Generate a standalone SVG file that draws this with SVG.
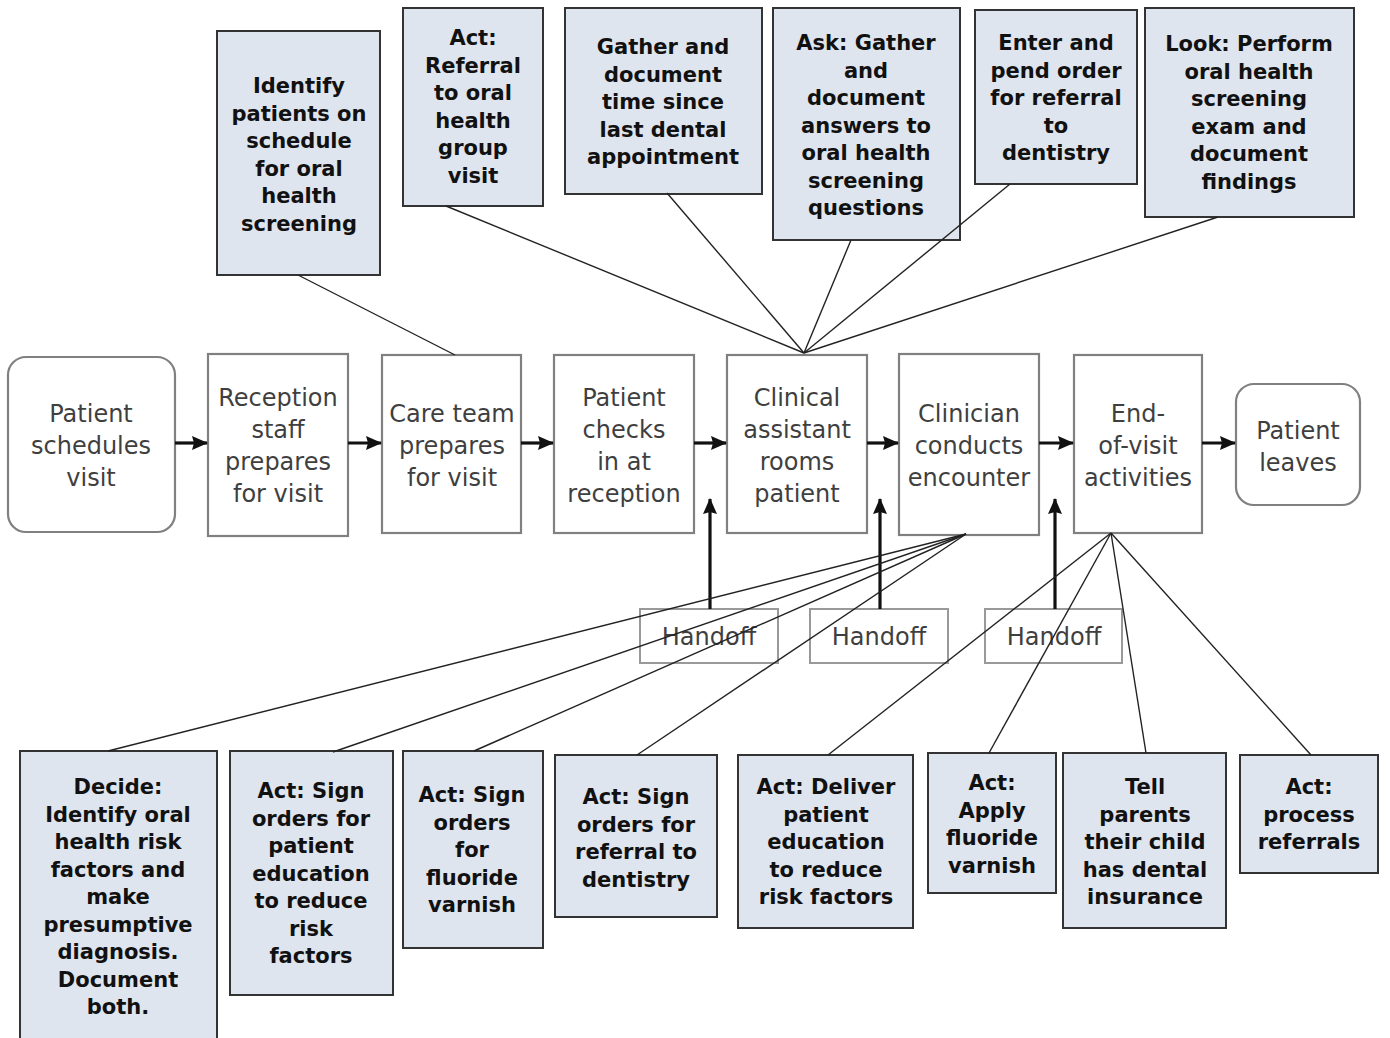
<svg xmlns="http://www.w3.org/2000/svg" width="1390" height="1038" viewBox="0 0 1390 1038">
<style>
.bg{fill:#ffffff}
.note rect{fill:#dfe5ee;stroke:#333;stroke-width:2}
.note text{font-family:"DejaVu Sans",Verdana,sans-serif;font-weight:bold;font-size:21px;fill:#111;text-anchor:middle}
.step rect{fill:#fff;stroke:#808080;stroke-width:2.2}
.step text,.hand text{font-family:"DejaVu Sans",Verdana,sans-serif;font-size:24px;fill:#3f3f3f;text-anchor:middle}
.hand rect{fill:#fff;stroke:#999;stroke-width:2}
.thin{stroke:#222;stroke-width:1.4;fill:none}
.flow{stroke:#111;stroke-width:3.2;fill:none}
</style>
<defs>
<marker id="ah" markerWidth="16" markerHeight="14" refX="15" refY="7" orient="auto" markerUnits="userSpaceOnUse">
<path d="M0,0 L16,7 L0,14 L2,7 z" fill="#111"/>
</marker>
</defs>
<rect class="bg" x="0" y="0" width="1390" height="1038"/>

<!-- top notes -->
<g id="n-identify" class="note"><rect x="217" y="31" width="163" height="244"/>
<text x="299" y="93">Identify</text><text x="299" y="120.5">patients on</text><text x="299" y="148">schedule</text><text x="299" y="175.5">for oral</text><text x="299" y="203">health</text><text x="299" y="230.5">screening</text></g>
<g id="n-referral" class="note"><rect x="403" y="8" width="140" height="198"/>
<text x="473" y="45">Act:</text><text x="473" y="72.5">Referral</text><text x="473" y="100">to oral</text><text x="473" y="127.5">health</text><text x="473" y="155">group</text><text x="473" y="182.5">visit</text></g>
<g id="n-gather" class="note"><rect x="565" y="8" width="197" height="186"/>
<text x="663" y="54">Gather and</text><text x="663" y="81.5">document</text><text x="663" y="109">time since</text><text x="663" y="136.5">last dental</text><text x="663" y="164">appointment</text></g>
<g id="n-ask" class="note"><rect x="773" y="8" width="187" height="232"/>
<text x="866" y="50">Ask: Gather</text><text x="866" y="77.5">and</text><text x="866" y="105">document</text><text x="866" y="132.5">answers to</text><text x="866" y="160">oral health</text><text x="866" y="187.5">screening</text><text x="866" y="215">questions</text></g>
<g id="n-enter" class="note"><rect x="975" y="10" width="162" height="174"/>
<text x="1056" y="50">Enter and</text><text x="1056" y="77.5">pend order</text><text x="1056" y="105">for referral</text><text x="1056" y="132.5">to</text><text x="1056" y="160">dentistry</text></g>
<g id="n-look" class="note"><rect x="1145" y="8" width="209" height="209"/>
<text x="1249" y="51">Look: Perform</text><text x="1249" y="78.5">oral health</text><text x="1249" y="106">screening</text><text x="1249" y="133.5">exam and</text><text x="1249" y="161">document</text><text x="1249" y="188.5">findings</text></g>

<!-- main flow -->
<g id="s-schedules" class="step"><rect x="8" y="357" width="167" height="175" rx="18"/>
<text x="91" y="422">Patient</text><text x="91" y="454">schedules</text><text x="91" y="486">visit</text></g>
<g id="s-reception" class="step"><rect x="208" y="354" width="140" height="182"/>
<text x="278" y="406">Reception</text><text x="278" y="438">staff</text><text x="278" y="470">prepares</text><text x="278" y="502">for visit</text></g>
<g id="s-careteam" class="step"><rect x="382" y="355" width="139" height="178"/>
<text x="452" y="422">Care team</text><text x="452" y="454">prepares</text><text x="452" y="486">for visit</text></g>
<g id="s-checks" class="step"><rect x="554" y="355" width="140" height="178"/>
<text x="624" y="406">Patient</text><text x="624" y="438">checks</text><text x="624" y="470">in at</text><text x="624" y="502">reception</text></g>
<g id="s-rooms" class="step"><rect x="727" y="355" width="140" height="178"/>
<text x="797" y="406">Clinical</text><text x="797" y="438">assistant</text><text x="797" y="470">rooms</text><text x="797" y="502">patient</text></g>
<g id="s-clinician" class="step"><rect x="899" y="354" width="140" height="181"/>
<text x="969" y="422">Clinician</text><text x="969" y="454">conducts</text><text x="969" y="486">encounter</text></g>
<g id="s-endvisit" class="step"><rect x="1074" y="355" width="128" height="178"/>
<text x="1138" y="422">End-</text><text x="1138" y="454">of-visit</text><text x="1138" y="486">activities</text></g>
<g id="s-leaves" class="step"><rect x="1236" y="384" width="124" height="121" rx="18"/>
<text x="1298" y="439">Patient</text><text x="1298" y="471">leaves</text></g>

<!-- handoffs -->
<g id="h1" class="hand"><rect x="640" y="609" width="138" height="54"/><text x="709" y="645">Handoff</text></g>
<g id="h2" class="hand"><rect x="810" y="609" width="138" height="54"/><text x="879" y="645">Handoff</text></g>
<g id="h3" class="hand"><rect x="985" y="609" width="137" height="54"/><text x="1054" y="645">Handoff</text></g>

<!-- bottom notes -->
<g id="b-decide" class="note"><rect x="20" y="751" width="197" height="300"/>
<text x="118" y="794">Decide:</text><text x="118" y="821.5">Identify oral</text><text x="118" y="849">health risk</text><text x="118" y="876.5">factors and</text><text x="118" y="904">make</text><text x="118" y="931.5">presumptive</text><text x="118" y="959">diagnosis.</text><text x="118" y="986.5">Document</text><text x="118" y="1014">both.</text></g>
<g id="b-educorders" class="note"><rect x="230" y="751" width="163" height="244"/>
<text x="311" y="798">Act: Sign</text><text x="311" y="825.5">orders for</text><text x="311" y="853">patient</text><text x="311" y="880.5">education</text><text x="311" y="908">to reduce</text><text x="311" y="935.5">risk</text><text x="311" y="963">factors</text></g>
<g id="b-fluororders" class="note"><rect x="403" y="751" width="140" height="197"/>
<text x="472" y="802">Act: Sign</text><text x="472" y="829.5">orders</text><text x="472" y="857">for</text><text x="472" y="884.5">fluoride</text><text x="472" y="912">varnish</text></g>
<g id="b-referorders" class="note"><rect x="555" y="755" width="162" height="162"/>
<text x="636" y="804">Act: Sign</text><text x="636" y="831.5">orders for</text><text x="636" y="859">referral to</text><text x="636" y="886.5">dentistry</text></g>
<g id="b-deliver" class="note"><rect x="738" y="755" width="175" height="173"/>
<text x="826" y="794">Act: Deliver</text><text x="826" y="821.5">patient</text><text x="826" y="849">education</text><text x="826" y="876.5">to reduce</text><text x="826" y="904">risk factors</text></g>
<g id="b-apply" class="note"><rect x="928" y="753" width="128" height="140"/>
<text x="992" y="790">Act:</text><text x="992" y="817.5">Apply</text><text x="992" y="845">fluoride</text><text x="992" y="872.5">varnish</text></g>
<g id="b-tell" class="note"><rect x="1063" y="753" width="163" height="175"/>
<text x="1145" y="794">Tell</text><text x="1145" y="821.5">parents</text><text x="1145" y="849">their child</text><text x="1145" y="876.5">has dental</text><text x="1145" y="904">insurance</text></g>
<g id="b-process" class="note"><rect x="1240" y="755" width="138" height="118"/>
<text x="1309" y="794">Act:</text><text x="1309" y="821.5">process</text><text x="1309" y="849">referrals</text></g>

<!-- connectors -->
<g id="connectors">
<line class="flow" x1="175" y1="443" x2="207" y2="443" marker-end="url(#ah)"/>
<line class="flow" x1="348" y1="443" x2="381" y2="443" marker-end="url(#ah)"/>
<line class="flow" x1="521" y1="443" x2="553" y2="443" marker-end="url(#ah)"/>
<line class="flow" x1="694" y1="443" x2="726" y2="443" marker-end="url(#ah)"/>
<line class="flow" x1="867" y1="443" x2="898" y2="443" marker-end="url(#ah)"/>
<line class="flow" x1="1039" y1="443" x2="1073" y2="443" marker-end="url(#ah)"/>
<line class="flow" x1="1202" y1="443" x2="1235" y2="443" marker-end="url(#ah)"/>
<line class="flow" x1="710" y1="609" x2="710" y2="499" marker-end="url(#ah)"/>
<line class="flow" x1="880" y1="609" x2="880" y2="499" marker-end="url(#ah)"/>
<line class="flow" x1="1055" y1="609" x2="1055" y2="499" marker-end="url(#ah)"/>
<line class="thin" x1="298" y1="275" x2="455" y2="355"/>
<line class="thin" x1="446" y1="206" x2="804" y2="353"/>
<line class="thin" x1="667" y1="193" x2="804" y2="353"/>
<line class="thin" x1="851" y1="240" x2="804" y2="353"/>
<line class="thin" x1="1010" y1="184" x2="804" y2="353"/>
<line class="thin" x1="1218" y1="217" x2="804" y2="353"/>
<line class="thin" x1="966" y1="534" x2="108" y2="751"/>
<line class="thin" x1="966" y1="534" x2="333" y2="752"/>
<line class="thin" x1="966" y1="534" x2="474" y2="751"/>
<line class="thin" x1="966" y1="534" x2="637" y2="755"/>
<line class="thin" x1="1111" y1="533" x2="828" y2="755"/>
<line class="thin" x1="1111" y1="533" x2="989" y2="753"/>
<line class="thin" x1="1111" y1="533" x2="1146" y2="753"/>
<line class="thin" x1="1111" y1="533" x2="1311" y2="755"/>
</g>
</svg>
